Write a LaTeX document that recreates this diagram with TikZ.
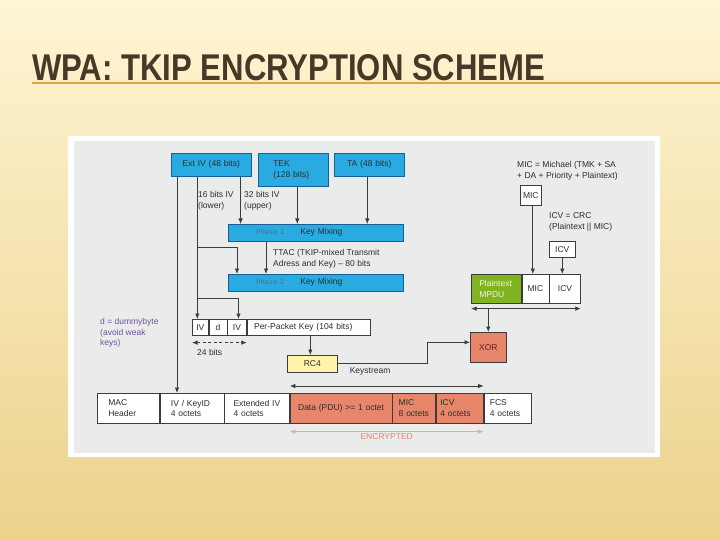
\documentclass[tikz,border=0pt]{standalone}
\usepackage{fontspec}
\usepackage{graphicx}
\setmainfont{Liberation Sans}
\newfontfamily\phasefont{Liberation Mono}
\usepackage{tikz}
\usetikzlibrary{arrows.meta}

\definecolor{bgtop}{RGB}{254,245,212}
\definecolor{bgmid}{RGB}{250,234,186}
\definecolor{bgbot}{RGB}{236,210,140}
\definecolor{titlec}{RGB}{72,56,40}
\definecolor{rulec}{RGB}{228,162,70}
\definecolor{panelc}{RGB}{234,235,235}
\definecolor{bluec}{RGB}{41,171,226}
\definecolor{blueline}{RGB}{25,95,145}
\definecolor{greenc}{RGB}{128,180,32}
\definecolor{salmonc}{RGB}{232,134,108}
\definecolor{yellowc}{RGB}{255,244,170}
\definecolor{purplec}{RGB}{112,82,160}
\definecolor{encc}{RGB}{222,135,110}
\definecolor{encline}{RGB}{236,170,150}
\definecolor{lineg}{RGB}{60,60,60}
\definecolor{textg}{RGB}{45,45,45}
\definecolor{phasec}{RGB}{85,105,125}

\newcommand{\diagfont}{\fontsize{8.5}{10.5}\selectfont}

\begin{document}
\begin{tikzpicture}[x=1pt, y=-1pt, >={Latex[length=5.5pt,width=4.5pt]},
                    cell/.style={rectangle, draw=lineg, fill=white, line width=0.6pt,
                                 anchor=north west, inner ysep=0pt, inner xsep=2pt,
                                 text=textg, font=\diagfont},
                    bluebox/.style={cell, draw=blueline, fill=bluec},
                    salmonbox/.style={cell, fill=salmonc},
                    greenbox/.style={cell, fill=greenc, text=white!88!greenc},
                    yellowbox/.style={cell, fill=yellowc},
                    lbl/.style={anchor=west, align=left, inner sep=0pt, text=textg, font=\diagfont},
                    arr/.style={->, draw=lineg, line width=0.8pt},
                    dbl/.style={<->, draw=lineg, line width=0.8pt}]

    \useasboundingbox (0,0) rectangle (720,540);
    \shade[top color=bgtop, middle color=bgmid, bottom color=bgbot] (0,0) rectangle (720,540);

    \node[anchor=south west, inner sep=0pt, text=titlec] (title) at (32,81)
        {\resizebox{513pt}{26pt}{\bfseries WPA: TKIP ENCRYPTION SCHEME}};
    \draw[rulec, line width=1.5pt] ([yshift=-2pt]title.south west) -- +(688,0);

    \fill[white] (68,136) rectangle (660,457);
    \fill[panelc] (74,141) rectangle (655,453);

    \node[bluebox, align=center, text width=76pt, minimum height=23pt] (extiv) at (171,153) {Ext IV (48 bits)};
    \node[bluebox, align=left, inner xsep=15pt, text width=40pt, minimum height=33pt] (tek) at (258,153) {TEK\\(128 bits)};
    \node[bluebox, align=center, text width=66pt, minimum height=23pt] (ta) at (334,153) {TA (48 bits)};
    \node[bluebox, align=left, inner xsep=28pt, text width=119pt, minimum height=17pt] (phase1) at (228,224)
        {{\phasefont\fontsize{7}{8}\selectfont\color{phasec}Phase 1}\hspace{16pt}Key Mixing};
    \node[bluebox, align=left, inner xsep=28pt, text width=119pt, minimum height=17pt] (phase2) at (228,274)
        {{\phasefont\fontsize{7}{8}\selectfont\color{phasec}Phase 2}\hspace{16pt}Key Mixing};

    \node[lbl] (lower) at (198,201) {16 bits IV\\(lower)};
    \node[lbl] (upper) at (244,201) {32 bits IV\\(upper)};
    \node[lbl] (ttac) at (273,259) {TTAC (TKIP-mixed Transmit\\Adress and Key) – 80 bits};

    \node[cell, align=center, text width=12pt, minimum height=16pt] (iv1) at (192,319) {IV};
    \node[cell, align=center, text width=14pt, minimum height=16pt] (dd) at (iv1.north east) {d};
    \node[cell, align=center, text width=15pt, minimum height=16pt] (iv2) at (dd.north east) {IV};
    \node[cell, align=left, inner xsep=7pt, text width=109pt, minimum height=16pt] (ppk) at (iv2.north east) {Per-Packet Key (104 bits)};

    \node[lbl, text=purplec] (dummy) at (100,333) {d = dummybyte\\(avoid weak\\keys)};
    \node[lbl] (bits24) at ([xshift=5pt,yshift=-17pt]iv1.south west) {24 bits};

    \node[yellowbox, align=center, text width=46pt, minimum height=17pt] (rc4) at (287,355) {RC4};
    \node[salmonbox, align=center, text width=32pt, minimum height=30pt, text={rgb,255:red,95;green,35;blue,25}] (xor) at (470,332) {XOR};
    \node[lbl, anchor=north west] (ks) at ([xshift=12pt,yshift=-4pt]rc4.east) {Keystream};

    \node[lbl] (miceq) at (517,171) {MIC = Michael (TMK + SA\\+ DA + Priority + Plaintext)};
    \node[cell, align=center, text width=17pt, minimum height=20pt] (micbox) at (520,185) {MIC};
    \node[lbl] (icveq) at (549,222) {ICV = CRC\\(Plaintext || MIC)};
    \node[cell, align=center, text width=22pt, minimum height=16pt] (icvbox) at (549,241) {ICV};

    \node[greenbox, align=left, inner xsep=8pt, text width=34pt, minimum height=29pt] (pmpdu) at (471,274) {Plaintext\\MPDU};
    \node[cell, align=center, text width=23pt, minimum height=29pt] (micc) at (pmpdu.north east) {MIC};
    \node[cell, align=center, text width=27pt, minimum height=29pt] (icvc) at (micc.north east) {ICV};

    \node[cell, align=left, inner xsep=11pt, text width=40pt, minimum height=30pt] (mac) at (97,393) {MAC\\Header};
    \node[cell, align=left, inner xsep=11pt, text width=42pt, minimum height=30pt] (ivk) at (mac.north east) {IV / KeyID\\4 octets};
    \node[cell, align=left, inner xsep=9pt, text width=47pt, minimum height=30pt] (ext2) at (ivk.north east) {Extended IV\\4 octets};
    \node[salmonbox, align=center, text width=98pt, minimum height=30pt] (data) at (ext2.north east) {Data (PDU) >= 1 octet};
    \node[salmonbox, align=left, inner xsep=6pt, text width=31pt, minimum height=30pt] (mic2) at (data.north east) {MIC\\8 octets};
    \node[salmonbox, align=left, inner xsep=4pt, text width=39pt, minimum height=30pt] (icv2) at (mic2.north east) {ICV\\4 octets};
    \node[cell, align=left, inner xsep=6pt, text width=35pt, minimum height=30pt] (fcs) at (icv2.north east) {FCS\\4 octets};

    \draw[arr] ([xshift=6pt]extiv.south west) -- ([xshift=6pt]extiv.south west |- ivk.north);
    \draw[arr] ([xshift=-3pt]iv1.north |- extiv.south) -- ([xshift=-3pt]iv1.north);
    \draw[arr] ([xshift=-3pt,yshift=-6pt]iv1.north |- phase1.south) -| ([xshift=9pt]phase2.north west);
    \draw[arr] ([xshift=-3pt,yshift=-7pt]iv1.north |- phase2.south) -| ([xshift=1.5pt]iv2.north);
    \draw[arr] ([xshift=-11pt]extiv.south east) -- ([xshift=-11pt]extiv.south east |- phase1.north);
    \draw[arr] ([xshift=4pt]tek.south) -- ([xshift=4pt]tek.south |- phase1.north);
    \draw[arr] ([xshift=-2pt]ta.south) -- ([xshift=-2pt]ta.south |- phase1.north);
    \draw[arr] ([xshift=38pt]phase1.south west) -- ([xshift=38pt]phase2.north west);
    \draw[dbl, dash pattern=on 3pt off 2.5pt] ([yshift=-7pt]iv1.south west) -- ([yshift=-7pt]iv2.south east);
    \draw[arr] ([xshift=-2pt]rc4.north |- ppk.south) -- ([xshift=-2pt]rc4.north);
    \draw[arr] (rc4.east) -- ([xshift=-43pt]xor.west |- rc4.east) |- ([yshift=5pt]xor.west);
    \draw[arr] ([xshift=2pt]micbox.south) -- ([xshift=2pt]micbox.south |- micc.north);
    \draw[arr] (icvbox.south) -- (icvbox.south |- icvc.north);
    \draw[dbl] ([yshift=-5pt]pmpdu.south west) -- ([yshift=-5pt]icvc.south east);
    \draw[arr] ([yshift=-5pt]xor.north |- pmpdu.south) -- (xor.north);
    \draw[dbl] ([yshift=7pt]data.north west) -- ([yshift=7pt]icv2.north east);
    \draw[<->, draw=encline, line width=0.8pt] ([yshift=-8pt]data.south west) -- ([yshift=-8pt]icv2.south east)
        node[midway, below=2pt, inner sep=0pt, text=encc, font=\diagfont] (enc) {ENCRYPTED};
\end{tikzpicture}
\end{document}
